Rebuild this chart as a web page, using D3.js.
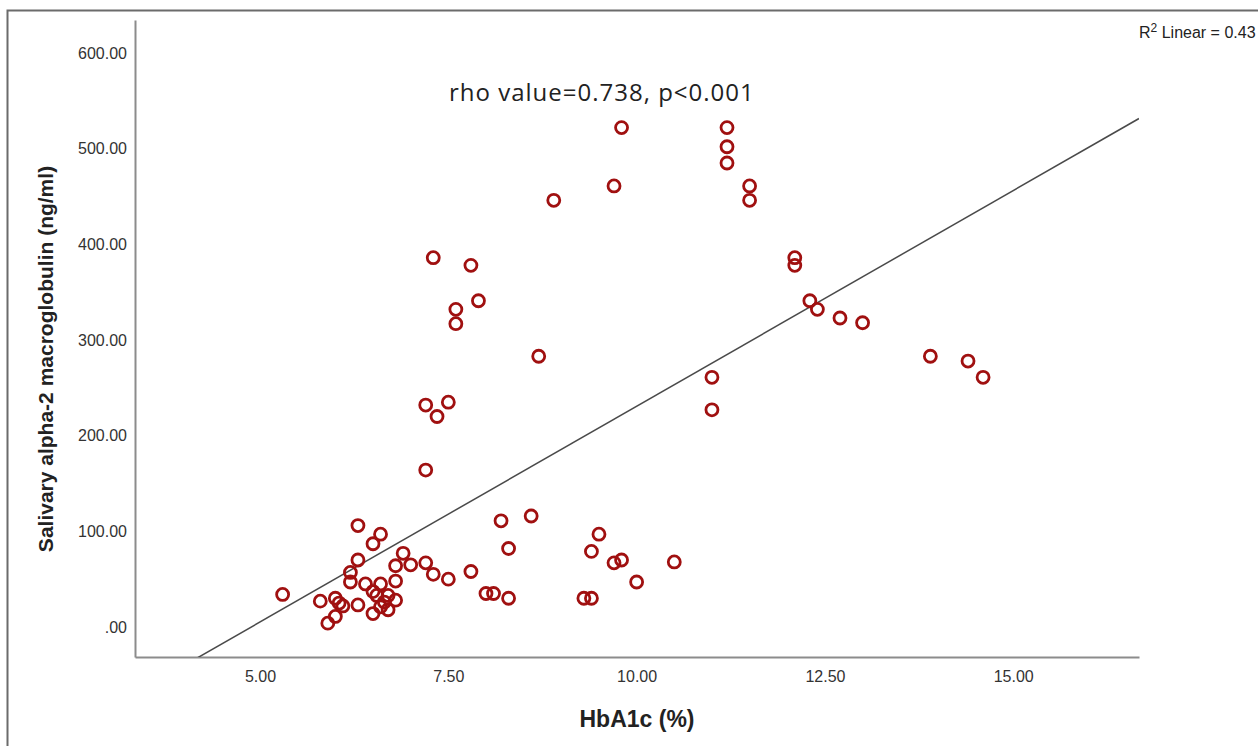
<!DOCTYPE html>
<html>
<head>
<meta charset="utf-8">
<script src="https://cdn.jsdelivr.net/npm/d3@7"></script>
<style>
  body { margin: 0; background: #fff; }
  svg { display: block; }
</style>
</head>
<body>
<div id="chart"></div>
<script>
// HbA1c (%) values
const hba1c = [
  5.3, 5.8, 5.9, 6.0, 6.0, 6.05, 6.1, 6.3, 6.3, 6.6, 6.5, 6.3, 6.2, 6.2, 6.4, 6.5, 6.6, 6.55,
  6.8, 6.9, 6.8, 7.0, 7.2, 7.3, 7.5, 6.7, 6.8, 6.6, 6.7, 6.5, 6.65,
  8.2, 8.6, 8.3, 7.8, 8.0, 8.1, 8.3, 9.5, 9.4, 9.7, 9.8, 10.0, 10.5, 9.3, 9.4,
  7.3, 7.8, 7.9, 7.6, 7.6, 8.7, 7.2, 7.5, 7.35, 7.2,
  9.8, 11.2, 11.2, 11.2, 11.5, 11.5, 9.7, 8.9,
  12.1, 12.1, 12.3, 12.4, 12.7, 13.0, 11.0, 11.0, 13.9, 14.4, 14.6
];
// Salivary alpha-2 macroglobulin (ng/ml) values
const a2m = [
  34, 27, 4, 30, 11, 25, 22, 23, 106, 97, 87, 70, 57, 47, 45, 37, 45, 33,
  48, 77, 64, 65, 67, 55, 50, 33, 28, 21, 18, 14, 26,
  111, 116, 82, 58, 35, 35, 30, 97, 79, 67, 70, 47, 68, 30, 30,
  386, 378, 341, 332, 317, 283, 232, 235, 220, 164,
  522, 522, 502, 485, 461, 446, 461, 446,
  386, 378, 341, 332, 323, 318, 261, 227, 283, 278, 261
];
const points = hba1c.map((v, i) => ({ x: v, y: a2m[i] }));

// fit line: y = intercept + slope * x
const fitIntercept = -220.3;
const fitSlope = 45.1;

const xTicks = [5, 7.5, 10, 12.5, 15];
const yTicks = [0, 100, 200, 300, 400, 500, 600];

const W = 1258, H = 746;
const plot = { left: 135, right: 1139, top: 20, bottom: 657 };

const svg = d3.select("#chart").append("svg")
  .attr("width", W).attr("height", H);

// outer frame (runs past the window on right and bottom)
svg.append("rect")
  .attr("x", 7.5).attr("y", 10.5)
  .attr("width", 1400).attr("height", 900)
  .attr("fill", "none").attr("stroke", "#6b6b6b").attr("stroke-width", 2);

const x = d3.scaleLinear().domain([3.34, 16.67]).range([plot.left, plot.right]);
const y = d3.scaleLinear().domain([-31.4, 634.5]).range([plot.bottom, plot.top]);

const fmt = v => d3.format(".2f")(v).replace(/^0\./, ".");

// axes
const xAxis = d3.axisBottom(x).tickValues(xTicks).tickFormat(fmt).tickSize(0).tickPadding(14);
const yAxis = d3.axisLeft(y).tickValues(yTicks).tickFormat(fmt).tickSize(0).tickPadding(8);

const gx = svg.append("g").attr("transform", `translate(0,${plot.bottom})`).call(xAxis);
const gy = svg.append("g").attr("transform", `translate(${plot.left},0)`).call(yAxis);
[gx, gy].forEach(g => {
  g.select(".domain").attr("stroke", "#8c8c8c").attr("stroke-width", 2);
  g.selectAll("text")
    .attr("font-family", "Liberation Sans, Arial, sans-serif")
    .attr("font-size", 16).attr("fill", "#333");
});

// clip for the fit line
svg.append("clipPath").attr("id", "plotclip")
  .append("rect")
  .attr("x", plot.left).attr("y", plot.top)
  .attr("width", plot.right - plot.left).attr("height", plot.bottom - plot.top);

const x0 = x.domain()[0], x1 = x.domain()[1];
svg.append("line")
  .attr("clip-path", "url(#plotclip)")
  .attr("x1", x(x0)).attr("y1", y(fitIntercept + fitSlope * x0))
  .attr("x2", x(x1)).attr("y2", y(fitIntercept + fitSlope * x1))
  .attr("stroke", "#4a4a4a").attr("stroke-width", 1.5);

// points
svg.selectAll(".pt")
  .data(points)
  .enter()
  .append("circle")
  .attr("class", "pt")
  .attr("cx", d => x(d.x))
  .attr("cy", d => y(d.y))
  .attr("r", 6)
  .attr("fill", "none")
  .attr("stroke", "#a01010")
  .attr("stroke-width", 2.8);

// axis titles
svg.append("text")
  .attr("x", 637).attr("y", 727)
  .attr("text-anchor", "middle")
  .attr("font-family", "Liberation Sans, Arial, sans-serif")
  .attr("font-size", 23).attr("font-weight", "bold").attr("fill", "#222")
  .text("HbA1c (%)");

svg.append("text")
  .attr("transform", `translate(53,359) rotate(-90)`)
  .attr("text-anchor", "middle")
  .attr("font-family", "Liberation Sans, Arial, sans-serif")
  .attr("font-size", 21).attr("font-weight", "bold").attr("fill", "#222")
  .text("Salivary alpha-2 macroglobulin (ng/ml)");

// annotation
svg.append("text")
  .attr("x", 449).attr("y", 101)
  .attr("font-family", "Open Sans, sans-serif")
  .attr("font-size", 24).attr("letter-spacing", 1).attr("fill", "#222")
  .text("rho value=0.738, p<0.001");

// R squared label (reference shows it up to "0.43" at the window edge)
const r2 = svg.append("text")
  .attr("x", 1139).attr("y", 38)
  .attr("font-family", "Liberation Sans, Arial, sans-serif")
  .attr("font-size", 16).attr("fill", "#222");
r2.append("tspan").text("R");
r2.append("tspan").attr("dy", -6).attr("font-size", 12).text("2");
r2.append("tspan").attr("dy", 6).text(" Linear = 0.43");
</script>
</body>
</html>
